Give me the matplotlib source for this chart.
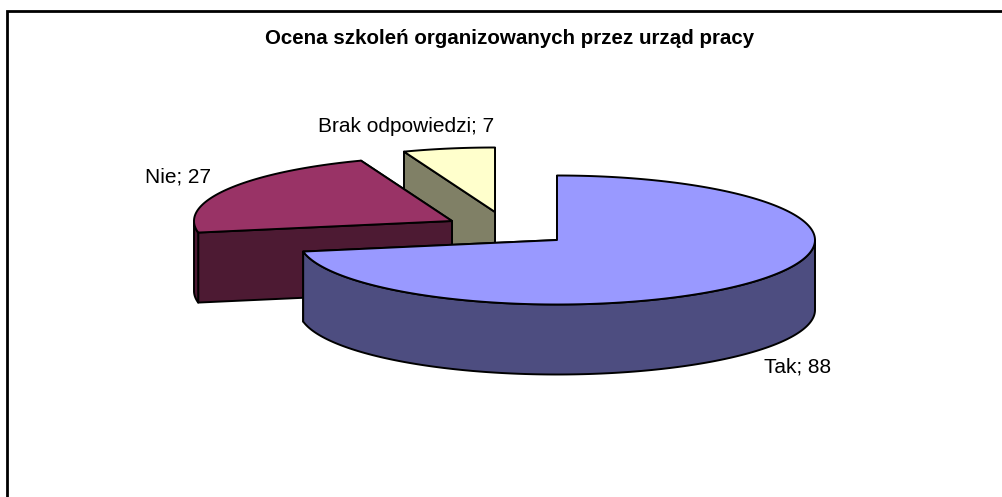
"""Exploded 3D-look pie: ocena szkolen organizowanych przez urzad pracy."""
import numpy as np
import matplotlib
matplotlib.use("Agg")
import matplotlib.pyplot as plt
from matplotlib.patches import Polygon

plt.rcParams["font.family"] = ["Liberation Sans", "DejaVu Sans"]

TITLE = "Ocena szkoleń organizowanych przez urząd pracy"
categories = ["Tak", "Nie", "Brak odpowiedzi"]
values = [88, 27, 7]
top_colors = ["#9999ff", "#993366", "#ffffcc"]
side_colors = ["#4d4d80", "#4d1a33", "#808066"]

# apex of each exploded slice, in pixels
apex = [(557, 240), (452, 221), (495, 212)]
label_pos = [(798, 367), (178, 177), (406, 126)]
RX, RY, DEPTH = 258, 64.5, 70


def arc(center, t0, t1, dy=0):
    t = np.radians(np.linspace(t0, t1, 200))
    return np.column_stack([center[0] + RX * np.sin(t),
                            center[1] - RY * np.cos(t) + dy])


def poly(ax, pts, color, z):
    ax.add_patch(Polygon(pts, closed=True, facecolor=color, edgecolor="black",
                         linewidth=1.4, joinstyle="round", zorder=z))


fig = plt.figure(figsize=(10.02, 4.97), dpi=100)
ax = fig.add_axes([0, 0, 1, 1])
ax.set_xlim(0, 1002)
ax.set_ylim(497, 0)
ax.axis("off")

# chart frame: only top and left show in the crop
ax.plot([7, 7, 1002], [497, 11, 11], color="black", lw=2.0, solid_joinstyle="miter")

angles = np.cumsum([0] + values) / sum(values) * 360
order = [2, 1, 0]  # back to front
for z, i in enumerate(order):
    c, t0, t1 = apex[i], angles[i], angles[i + 1]
    base = 10 * (z + 1)
    for t, dz in ((t1, 0), (t0, 1)):
        edge = arc(c, t, t, 0)[0]
        poly(ax, [c, edge, edge + [0, DEPTH], (c[0], c[1] + DEPTH)], side_colors[i], base + dz)
    s0, s1 = max(t0, 90), min(t1, 270)
    if s1 > s0:
        poly(ax, np.vstack([arc(c, s0, s1), arc(c, s1, s0, DEPTH)]), side_colors[i], base + 2)
    poly(ax, np.vstack([[c], arc(c, t0, t1)]), top_colors[i], base + 3)

ax.text(510, 39, TITLE, ha="center", va="center", fontsize=14.8, fontweight="bold", color="black")
for name, val, (x, y) in zip(categories, values, label_pos):
    ax.text(x, y, f"{name}; {val}", ha="center", va="center", fontsize=15, color="black", zorder=100)

fig.savefig("out.png", dpi=100, facecolor="white")
